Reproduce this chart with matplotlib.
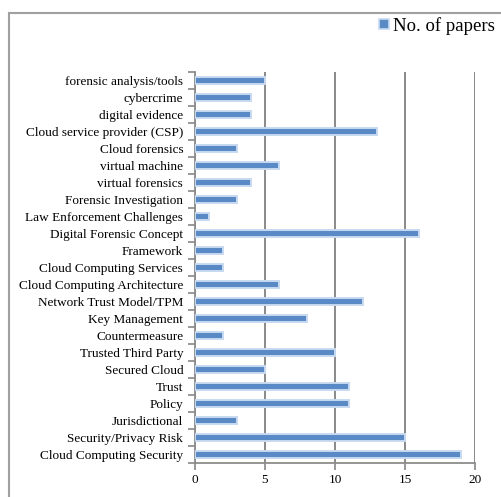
import matplotlib
matplotlib.use("Agg")
import matplotlib.pyplot as plt
from matplotlib.patches import Rectangle
from matplotlib.lines import Line2D

categories = [
    "forensic analysis/tools", "cybercrime", "digital evidence",
    "Cloud service provider (CSP)", "Cloud forensics", "virtual machine",
    "virtual forensics", "Forensic Investigation", "Law Enforcement Challenges",
    "Digital Forensic Concept", "Framework", "Cloud Computing Services",
    "Cloud Computing Architecture", "Network Trust Model/TPM", "Key Management",
    "Countermeasure", "Trusted Third Party", "Secured Cloud", "Trust", "Policy",
    "Jurisdictional", "Security/Privacy Risk", "Cloud Computing Security",
]
values = [5, 4, 4, 13, 3, 6, 4, 3, 1, 16, 2, 2, 6, 12, 8, 2, 10, 5, 11, 11, 3, 15, 19]
series_name = "No. of papers"
xticks = [0, 5, 10, 15, 20]

plt.rcParams['font.family'] = ['Liberation Serif', 'DejaVu Serif']

fig = plt.figure(figsize=(5.02, 4.97), dpi=100)
ax = fig.add_axes([195/502, 1-463/497, 280/502, (463-72)/497])

n = len(categories)
ypos = list(range(n))[::-1]
ax.barh(ypos, values, height=0.4, color='#5a8ac6', edgecolor='#c8daf0',
        linewidth=1.4, zorder=3)

ax.set_xlim(0, 20)
ax.set_ylim(-0.5, n - 0.5)
ax.set_xticks(xticks)
ax.set_xticklabels([str(t) for t in xticks], fontsize=9.5)
ax.set_yticks(ypos)
ax.set_yticklabels(categories, fontsize=9.5)
ax.tick_params(axis='y', length=0, pad=8.5)
ax.tick_params(axis='x', length=5, color='#888888', width=1.2, pad=3, direction='out')

# y tick marks between categories
ax.set_yticks([i - 0.5 for i in range(n + 1)], minor=True)
ax.tick_params(axis='y', which='minor', length=5, color='#888888', width=1.2)

ax.grid(axis='x', color='#808080', linewidth=1.3, zorder=0)
for s in ['top', 'right']:
    ax.spines[s].set_visible(False)
for s in ['left', 'bottom']:
    ax.spines[s].set_color('#8c8c8c')
    ax.spines[s].set_linewidth(1.3)

# legend
handle = Line2D([], [], marker='s', linestyle='none', markersize=7,
                markerfacecolor='#5a8ac6', markeredgecolor='#c8daf0', markeredgewidth=1.2)
fig.legend([handle], [series_name], loc='upper right', bbox_to_anchor=(1.02, 1.0),
           frameon=False, fontsize=13.5, handletextpad=0.0, handlelength=1.0)

# outer border
fig.patches.append(Rectangle((9/502, -0.05), 1.1, 1 - 13/497 + 0.05,
                             transform=fig.transFigure, fill=False,
                             edgecolor='#a0a0a0', linewidth=1.5))

fig.savefig('out.png', dpi=100)
